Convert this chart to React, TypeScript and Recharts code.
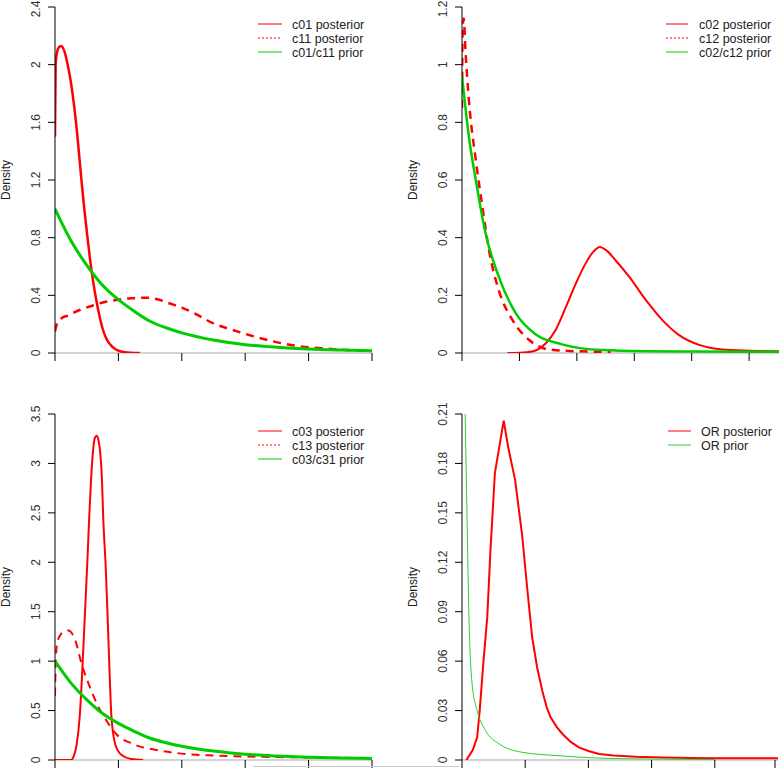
import { LineChart, Line, XAxis, YAxis, ReferenceLine } from "recharts";

const RED = "#ff0000";
const GREEN = "#00cd00";
const FONT = "'Liberation Sans', Arial, sans-serif";

// ---- panel 1 (top left)
const p1XTicks = [0, 1, 2, 3, 4, 5];
const p1YTicks = [0, 0.4, 0.8, 1.2, 1.6, 2, 2.4];
const p1YLabels = ["0", "0.4", "0.8", "1.2", "1.6", "2", "2.4"];
const c01X = [0, 0.01, 0.03, 0.06, 0.1, 0.15, 0.2, 0.25, 0.3, 0.35, 0.4, 0.45, 0.5, 0.55, 0.6, 0.65, 0.7, 0.75, 0.8, 0.85, 0.9, 0.95, 1.0, 1.1, 1.2, 1.34];
const c01Y = [1.5, 2.0, 2.08, 2.12, 2.13, 2.09, 2.0, 1.88, 1.72, 1.52, 1.28, 1.05, 0.85, 0.66, 0.5, 0.37, 0.26, 0.17, 0.11, 0.07, 0.045, 0.028, 0.016, 0.006, 0.002, 0];
const c11X = [0, 0.03, 0.1, 0.2, 0.4, 0.6, 0.8, 1.0, 1.2, 1.4, 1.6, 1.8, 2.0, 2.2, 2.5, 2.8, 3.1, 3.4, 3.7, 4.0, 4.3, 4.6, 5.0];
const c11Y = [0.15, 0.2, 0.24, 0.26, 0.3, 0.33, 0.355, 0.37, 0.38, 0.384, 0.375, 0.345, 0.315, 0.275, 0.205, 0.16, 0.12, 0.085, 0.057, 0.04, 0.03, 0.02, 0.014];
const prior1X = [0, 0.25, 0.5, 0.75, 1, 1.25, 1.5, 1.75, 2, 2.5, 3, 3.5, 4, 4.5, 5];
const prior1Y = [1.0, 0.78, 0.61, 0.47, 0.37, 0.29, 0.22, 0.175, 0.14, 0.09, 0.058, 0.04, 0.028, 0.021, 0.016];

// ---- panel 2 (top right)
const p2XTicks = [0, 1, 2, 3, 4, 5];
const p2YTicks = [0, 0.2, 0.4, 0.6, 0.8, 1, 1.2];
const p2YLabels = ["0", "0.2", "0.4", "0.6", "0.8", "1", "1.2"];
const c02X = [0.79, 1.0, 1.22, 1.46, 1.63, 1.81, 1.98, 2.15, 2.28, 2.4, 2.52, 2.68, 2.91, 3.2, 3.49, 3.78, 4.13, 4.53, 5.0, 5.52];
const c02Y = [0, 0.001, 0.005, 0.034, 0.08, 0.16, 0.24, 0.31, 0.35, 0.368, 0.355, 0.32, 0.265, 0.184, 0.114, 0.062, 0.028, 0.012, 0.008, 0.006];
const c12X = [0, 0.01, 0.03, 0.06, 0.12, 0.24, 0.36, 0.47, 0.64, 0.88, 1.17, 1.52, 2.0, 2.59];
const c12Y = [0.85, 1.12, 1.16, 1.05, 0.877, 0.67, 0.5, 0.357, 0.218, 0.114, 0.045, 0.012, 0.006, 0.004];
const prior2X = [0, 0.06, 0.12, 0.24, 0.41, 0.64, 0.93, 1.28, 1.74, 2.44, 3.2, 4.0, 5.52];
const prior2Y = [0.96, 0.85, 0.75, 0.6, 0.415, 0.265, 0.14, 0.065, 0.03, 0.01, 0.006, 0.005, 0.004];

// ---- panel 3 (bottom left)
const p3XTicks = [0, 1, 2, 3, 4, 5];
const p3YTicks = [0, 0.5, 1, 1.5, 2, 2.5, 3, 3.5];
const p3YLabels = ["0", "0.5", "1", "1.5", "2", "2.5", "3", "3.5"];
const c03X = [0, 0.25, 0.29, 0.34, 0.39, 0.43, 0.47, 0.51, 0.54, 0.57, 0.6, 0.63, 0.66, 0.69, 0.71, 0.74, 0.76, 0.8, 0.83, 0.86, 0.89, 0.95, 1.05, 1.2, 1.39];
const c03Y = [0, 0, 0.03, 0.15, 0.44, 0.9, 1.45, 2.0, 2.46, 2.85, 3.13, 3.26, 3.28, 3.22, 3.13, 2.85, 2.46, 1.95, 1.45, 0.9, 0.44, 0.16, 0.05, 0.01, 0];
const c13X = [0, 0.01, 0.03, 0.08, 0.14, 0.21, 0.32, 0.42, 0.53, 0.66, 0.81, 0.97, 1.24, 1.66, 2.08, 2.55, 3.0, 3.5, 4.0, 4.5, 5.0];
const c13Y = [0.65, 0.95, 1.17, 1.26, 1.3, 1.31, 1.21, 0.97, 0.77, 0.57, 0.4, 0.26, 0.16, 0.095, 0.06, 0.045, 0.035, 0.03, 0.025, 0.022, 0.02];
const prior3X = [0, 0.25, 0.5, 0.75, 1, 1.25, 1.5, 1.75, 2, 2.5, 3, 3.5, 4, 4.5, 5];
const prior3Y = [1.0, 0.78, 0.61, 0.47, 0.37, 0.29, 0.22, 0.175, 0.14, 0.09, 0.058, 0.04, 0.028, 0.021, 0.016];

// ---- panel 4 (bottom right)
const p4XTicks = [0, 1, 2, 3, 4, 5];
const p4YTicks = [0, 0.03, 0.06, 0.09, 0.12, 0.15, 0.18, 0.21];
const p4YLabels = ["0", "0.03", "0.06", "0.09", "0.12", "0.15", "0.18", "0.21"];
const orPostX = [0.07, 0.17, 0.24, 0.28, 0.34, 0.4, 0.45, 0.52, 0.59, 0.66, 0.73, 0.84, 0.95, 1.03, 1.11, 1.19, 1.27, 1.34, 1.4, 1.5, 1.59, 1.72, 1.85, 2.0, 2.17, 2.4, 2.75, 3.17, 3.6, 4.0, 4.5, 5.0];
const orPostY = [0, 0.006, 0.0138, 0.03, 0.06, 0.087, 0.127, 0.174, 0.19, 0.206, 0.19, 0.17, 0.137, 0.105, 0.0745, 0.056, 0.042, 0.032, 0.026, 0.02, 0.0158, 0.011, 0.0077, 0.0055, 0.0036, 0.0028, 0.002, 0.0015, 0.0012, 0.001, 0.001, 0.001];
const orPriorX = [0.05, 0.08, 0.11, 0.16, 0.24, 0.37, 0.59, 0.95, 1.49, 2.28, 3.0, 4.0];
const orPriorY = [0.21, 0.147, 0.087, 0.046, 0.03, 0.018, 0.0097, 0.0047, 0.0027, 0.001, 0.0006, 0.0003];

const zip = (xs: number[], ys: number[]) => xs.map((x, i) => ({ x, y: ys[i] }));

type Series = {
  name: string;
  xs: number[];
  ys: number[];
  color: string;
  width: number;
  dash?: string;
  curve?: "monotone" | "linear";
  legendDash?: string;
};

type PanelProps = {
  left: number;
  top: number;
  width: number;
  height: number;
  plotLeft: number;
  plotRight: number;
  plotTop: number;
  plotBottom: number;
  xMax: number;
  xTicks: number[];
  yTicks: number[];
  yLabels: string[];
  series: Series[];
  legendLine: [number, number];
  legendTextX: number;
  legendY: number;
};

const Panel = (p: PanelProps) => {
  const yTick = (props: any) => {
    const { y, payload } = props;
    const i = p.yTicks.indexOf(payload.value);
    const bx = p.plotLeft - 15;
    return (
      <text x={bx} y={y} transform={`rotate(-90 ${bx} ${y})`} textAnchor="middle" fontSize={12} fill="#333" fontFamily={FONT}>
        {i >= 0 ? p.yLabels[i] : String(payload.value)}
      </text>
    );
  };
  const xTick = (props: any) => (
    <line x1={props.x} x2={props.x} y1={p.plotBottom} y2={p.plotBottom + 8} stroke="#000" strokeWidth={1} />
  );
  const midY = (p.plotTop + p.plotBottom) / 2;
  const lx = p.plotLeft - 45;

  return (
    <div style={{ position: "absolute", left: p.left, top: p.top, width: p.width, height: p.height }}>
      <LineChart
        width={p.width}
        height={p.height}
        margin={{ top: p.plotTop, right: p.width - p.plotRight, left: 0, bottom: 0 }}
      >
        <XAxis
          type="number"
          dataKey="x"
          domain={[0, p.xMax]}
          ticks={p.xTicks}
          height={p.height - p.plotBottom}
          axisLine={false}
          tickLine={false}
          tick={xTick}
          allowDataOverflow
        />
        <YAxis
          type="number"
          dataKey="y"
          domain={[0, p.yTicks[p.yTicks.length - 1]]}
          ticks={p.yTicks}
          width={p.plotLeft}
          axisLine={{ stroke: "#000" }}
          tickLine={{ stroke: "#000" }}
          tickSize={7}
          tick={yTick}
          allowDataOverflow
          label={{
            content: () => (
              <text x={lx} y={midY} transform={`rotate(-90 ${lx} ${midY})`} textAnchor="middle" fontSize={12} fill="#222" fontFamily={FONT}>
                Density
              </text>
            ),
          }}
        />
        <ReferenceLine y={0} stroke="#c4c4c4" strokeWidth={1.5} />
        {p.series.map((s) => (
          <Line
            key={s.name}
            name={s.name}
            data={zip(s.xs, s.ys)}
            dataKey="y"
            type={s.curve ?? "monotone"}
            stroke={s.color}
            strokeWidth={s.width}
            strokeDasharray={s.dash}
            dot={false}
            activeDot={false}
            isAnimationActive={false}
          />
        ))}
      </LineChart>
      <svg
        width={p.width}
        height={p.height}
        style={{ position: "absolute", left: 0, top: 0, pointerEvents: "none" }}
      >
        {p.series.map((s, i) => {
          const y = p.legendY + i * 14;
          return (
            <g key={s.name}>
              <line x1={p.legendLine[0]} x2={p.legendLine[1]} y1={y} y2={y} stroke={s.color} strokeWidth={1} strokeDasharray={s.legendDash} />
              <text x={p.legendTextX} y={y + 4.5} fontSize={12.5} fill="#222" fontFamily={FONT}>
                {s.name}
              </text>
            </g>
          );
        })}
      </svg>
    </div>
  );
};

export default function App() {
  return (
    <div style={{ position: "absolute", left: 0, top: 0, width: 779, height: 768, overflow: "hidden", background: "#fff" }}>
      <Panel
        left={0}
        top={0}
        width={390}
        height={384}
        plotLeft={55}
        plotRight={372}
        plotTop={7}
        plotBottom={353}
        xMax={5}
        xTicks={p1XTicks}
        yTicks={p1YTicks}
        yLabels={p1YLabels}
        legendLine={[258, 282]}
        legendTextX={292}
        legendY={24}
        series={[
          { name: "c01 posterior", xs: c01X, ys: c01Y, color: RED, width: 2.5 },
          { name: "c11 posterior", xs: c11X, ys: c11Y, color: RED, width: 2.5, dash: "8 6", legendDash: "2 2" },
          { name: "c01/c11 prior", xs: prior1X, ys: prior1Y, color: GREEN, width: 3 },
        ]}
      />
      <Panel
        left={389}
        top={0}
        width={390}
        height={384}
        plotLeft={73}
        plotRight={390}
        plotTop={7}
        plotBottom={353}
        xMax={5.52}
        xTicks={p2XTicks}
        yTicks={p2YTicks}
        yLabels={p2YLabels}
        legendLine={[277, 299]}
        legendTextX={310}
        legendY={24}
        series={[
          { name: "c02 posterior", xs: c02X, ys: c02Y, color: RED, width: 2 },
          { name: "c12 posterior", xs: c12X, ys: c12Y, color: RED, width: 2.5, dash: "8 6", legendDash: "2 2" },
          { name: "c02/c12 prior", xs: prior2X, ys: prior2Y, color: GREEN, width: 2.5 },
        ]}
      />
      <Panel
        left={0}
        top={384}
        width={390}
        height={400}
        plotLeft={55}
        plotRight={372}
        plotTop={30}
        plotBottom={376}
        xMax={5}
        xTicks={p3XTicks}
        yTicks={p3YTicks}
        yLabels={p3YLabels}
        legendLine={[258, 282]}
        legendTextX={292}
        legendY={47}
        series={[
          { name: "c03 posterior", xs: c03X, ys: c03Y, color: RED, width: 2 },
          { name: "c13 posterior", xs: c13X, ys: c13Y, color: RED, width: 2, dash: "8 6", legendDash: "2 2" },
          { name: "c03/c31 prior", xs: prior3X, ys: prior3Y, color: GREEN, width: 3 },
        ]}
      />
      <Panel
        left={389}
        top={384}
        width={390}
        height={400}
        plotLeft={73}
        plotRight={389}
        plotTop={30}
        plotBottom={376}
        xMax={5}
        xTicks={p4XTicks}
        yTicks={p4YTicks}
        yLabels={p4YLabels}
        legendLine={[279, 302]}
        legendTextX={312}
        legendY={47}
        series={[
          { name: "OR posterior", xs: orPostX, ys: orPostY, color: RED, width: 2, curve: "linear" },
          { name: "OR prior", xs: orPriorX, ys: orPriorY, color: "#2ecc2e", width: 1 },
        ]}
      />
      <div style={{ position: "absolute", left: 253, top: 766, width: 206, height: 1, background: "#c8c8c8" }} />
    </div>
  );
}
